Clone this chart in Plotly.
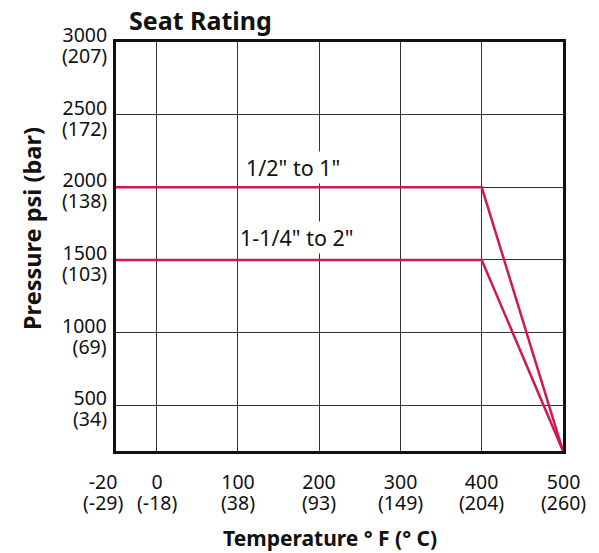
import plotly.graph_objects as go

# Data
temps_f = [-50, 400, 500]
small_psi = [2000, 2000, 185]
large_psi = [1500, 1500, 185]
series_names = ['1/2" to 1"', '1-1/4" to 2"']

x_tickvals = [0, 100, 200, 300, 400, 500]
x_tick_f = ["0", "100", "200", "300", "400", "500"]
x_tick_c = ["(-18)", "(38)", "(93)", "(149)", "(204)", "(260)"]
x_extra_f, x_extra_c = "-20", "(-29)"
y_tickvals = [500, 1000, 1500, 2000, 2500, 3000]
y_tick_psi = ["500", "1000", "1500", "2000", "2500", "3000"]
y_tick_bar = ["(34)", "(69)", "(103)", "(138)", "(172)", "(207)"]

FONT = "Noto Sans"
RED = "#CF1A4C"
TXT = "#111111"
# base size sets the (tight) line spacing, the span sets the glyph size
TICKFONT = dict(size=15.8, family=FONT, color=TXT)

def two_line(a, b):
    return ('<span style="font-size:19.5px">' + a + '</span><br>'
            '<span style="font-size:19.5px">' + b + '</span>')

fig = go.Figure()
for name, ys in zip(series_names, [small_psi, large_psi]):
    fig.add_trace(go.Scatter(x=temps_f, y=ys, mode="lines", name=name,
                             line=dict(color=RED, width=2.5), showlegend=False,
                             cliponaxis=False, hoverinfo="skip"))

W, H = 599, 553
L, R, T, B = 116, 36, 42, 102
plot_w = W - L - R
plot_h = H - T - B

def px_to_paper_x(px):
    return (px - L) / plot_w

def px_to_paper_y(py):
    return (H - B - py) / plot_h

fig.update_layout(
    width=W, height=H,
    margin=dict(l=L, r=R, t=T, b=B),
    paper_bgcolor="white", plot_bgcolor="white",
    font=dict(family=FONT, size=16, color=TXT),
    showlegend=False,
)
fig.update_xaxes(range=[-50, 500], tickvals=x_tickvals, showticklabels=False,
                 showgrid=True, gridcolor="#333", gridwidth=1.4,
                 showline=True, linecolor=TXT, linewidth=2.6, mirror=True,
                 ticks="", zeroline=False)
fig.update_yaxes(range=[185, 3000], tickvals=y_tickvals, showticklabels=False,
                 showgrid=True, gridcolor="#333", gridwidth=1.4,
                 showline=True, linecolor=TXT, linewidth=2.6, mirror=True,
                 ticks="", zeroline=False)

anns = []
# X tick labels (°F over °C)
for v, f, c in zip(x_tickvals, x_tick_f, x_tick_c):
    anns.append(dict(x=v, y=0, xref="x", yref="paper", text=two_line(f, c), showarrow=False,
                     xanchor="center", yanchor="middle", yshift=-41, font=TICKFONT))
# -20 label sits left of the plot frame
anns.append(dict(x=px_to_paper_x(103), y=0, xref="paper", yref="paper",
                 text=two_line(x_extra_f, x_extra_c),
                 showarrow=False, xanchor="center", yanchor="middle", yshift=-41, font=TICKFONT))
# Y tick labels (psi over bar)
for v, p, b in zip(y_tickvals, y_tick_psi, y_tick_bar):
    anns.append(dict(x=0, y=v, xref="paper", yref="y", text=two_line(p, b), showarrow=False,
                     xanchor="right", yanchor="middle", align="right", xshift=-7, yshift=-3,
                     font=TICKFONT))
# Series labels
anns.append(dict(x=108, y=2000, xref="x", yref="y", xanchor="left", yanchor="middle", yshift=20,
                 text=series_names[0], showarrow=False, bgcolor="white", borderpad=1,
                 font=dict(size=21.5, family=FONT, color=TXT)))
anns.append(dict(x=100, y=1500, xref="x", yref="y", xanchor="left", yanchor="middle", yshift=22,
                 text=series_names[1], showarrow=False, bgcolor="white", borderpad=1,
                 font=dict(size=21.5, family=FONT, color=TXT)))
# Title
anns.append(dict(x=px_to_paper_x(127), y=px_to_paper_y(20), xref="paper", yref="paper",
                 xanchor="left", yanchor="middle", text="<b>Seat Rating</b>", showarrow=False,
                 font=dict(size=25, family=FONT, color=TXT)))
# Axis titles
anns.append(dict(x=px_to_paper_x(330), y=px_to_paper_y(538), xref="paper", yref="paper",
                 xanchor="center", yanchor="middle", text="<b>Temperature ° F (° C)</b>", showarrow=False,
                 font=dict(size=21, family=FONT, color=TXT)))
anns.append(dict(x=px_to_paper_x(32), y=px_to_paper_y(229), xref="paper", yref="paper",
                 xanchor="center", yanchor="middle", text="<b>Pressure psi (bar)</b>", showarrow=False,
                 textangle=-90, font=dict(size=23.5, family=FONT, color=TXT)))
fig.update_layout(annotations=anns)

fig.write_html("out.html", config={"displayModeBar": False},
               post_script="document.body.style.margin='0';document.body.style.padding='0';")
